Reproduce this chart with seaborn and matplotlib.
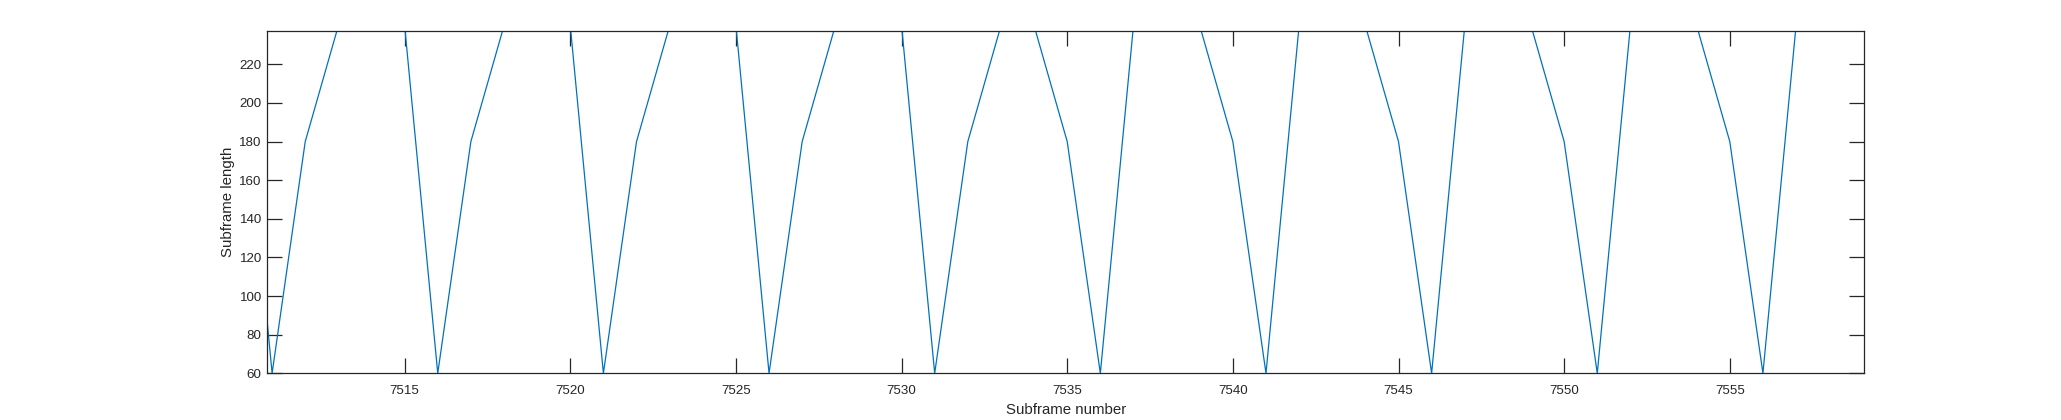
import numpy as np
import pandas as pd
import matplotlib
matplotlib.use("Agg")
import matplotlib.pyplot as plt
import seaborn as sns

# Data
subframe_number = [7510, 7511, 7512, 7513, 7514, 7515,
                   7516, 7517, 7518, 7519, 7520,
                   7521, 7522, 7523, 7524, 7525,
                   7526, 7527, 7528, 7529, 7530,
                   7531, 7532, 7533, 7534, 7535,
                   7536, 7537, 7538, 7539, 7540,
                   7541, 7542, 7543, 7544, 7545,
                   7546, 7547, 7548, 7549, 7550,
                   7551, 7552, 7553, 7554, 7555,
                   7556, 7557, 7558, 7559, 7560]
subframe_length = [240, 60, 180, 240, 240, 240,
                   60, 180, 240, 240, 240,
                   60, 180, 240, 240, 240,
                   60, 180, 240, 240, 240,
                   60, 180, 240, 240, 180,
                   60, 240, 240, 240, 180,
                   60, 240, 240, 240, 180,
                   60, 240, 240, 240, 180,
                   60, 240, 240, 240, 180,
                   60, 240, 240, 240, 240]
x_ticks = [7515, 7520, 7525, 7530, 7535, 7540, 7545, 7550, 7555]
y_ticks = [60, 80, 100, 120, 140, 160, 180, 200, 220]

sns.set_theme(style="white")
plt.rcParams['font.family'] = ['Liberation Sans', 'DejaVu Sans']

df = pd.DataFrame({"x": subframe_number, "y": subframe_length})

fig = plt.figure(figsize=(20.61, 4.20), dpi=100)
ax = fig.add_axes([267.3 / 2061, 1 - 373.3 / 420, (1864.3 - 267.3) / 2061, (373.3 - 31.3) / 420])

sns.lineplot(data=df, x="x", y="y", ax=ax, color="#0072BD", linewidth=0.9)

ax.set_xlim(7510.855, 7559.06)
ax.set_ylim(60, 237.1)
ax.set_xticks(x_ticks)
ax.set_yticks(y_ticks)

edge = "#262626"
for s in ax.spines.values():
    s.set_visible(True)
    s.set_color(edge)
    s.set_linewidth(0.9)

ax.tick_params(axis="both", which="major", direction="in", length=11, width=0.9,
               color=edge, labelcolor=edge, labelsize=9.6,
               top=True, right=True, bottom=True, left=True)
ax.tick_params(axis="x", pad=8.5)
ax.tick_params(axis="y", pad=4)

ax.set_xlabel("Subframe number", fontsize=10.8, color=edge, labelpad=4)
ax.set_ylabel("Subframe length", fontsize=10.8, color=edge, labelpad=3)
ax.grid(False)

fig.savefig("out.png", dpi=100, facecolor="white")
